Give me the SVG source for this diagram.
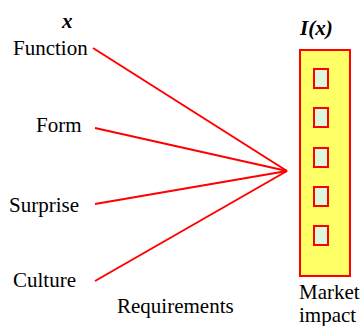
<svg xmlns="http://www.w3.org/2000/svg" width="362" height="326" viewBox="0 0 362 326">
  <style>
    .lbl { font-family: "Liberation Serif", "Times New Roman", serif; font-size: 21px; fill: #000; }
    .var { font-family: "Liberation Serif", "Times New Roman", serif; font-size: 21px; font-weight: bold; font-style: italic; fill: #000; }
    .link { stroke: #ff0000; stroke-width: 2; fill: none; }
    .cell { fill: #dcf7dc; stroke: #ff0000; stroke-width: 2; }
  </style>
  <rect width="362" height="326" fill="#ffffff"/>

  <!-- input variable -->
  <text class="var" x="62" y="28">x</text>

  <!-- requirement nodes -->
  <g id="function"><text class="lbl" x="13" y="55">Function</text></g>
  <g id="form"><text class="lbl" x="36" y="132">Form</text></g>
  <g id="surprise"><text class="lbl" x="9" y="212">Surprise</text></g>
  <g id="culture"><text class="lbl" x="13" y="287">Culture</text></g>
  <text class="lbl" x="117" y="313">Requirements</text>

  <!-- connectors converging on the impact column -->
  <g id="connectors">
    <line class="link" x1="93" y1="48" x2="287" y2="171"/>
    <line class="link" x1="95" y1="128" x2="287" y2="171"/>
    <line class="link" x1="95" y1="204" x2="287" y2="171"/>
    <line class="link" x1="95" y1="281" x2="287" y2="171"/>
  </g>

  <!-- market impact column -->
  <g id="impact">
    <text class="var" x="300" y="35">I(x)</text>
    <rect x="300" y="50" width="50" height="226" fill="#ffff66" stroke="#ff0000" stroke-width="2"/>
    <rect class="cell" x="314" y="69" width="14" height="19"/>
    <rect class="cell" x="314" y="108" width="14" height="19"/>
    <rect class="cell" x="314" y="148" width="14" height="19"/>
    <rect class="cell" x="314" y="187" width="14" height="19"/>
    <rect class="cell" x="314" y="226" width="14" height="19"/>
    <text class="lbl" x="299" y="299">Market</text>
    <text class="lbl" x="299" y="322">impact</text>
  </g>
</svg>
